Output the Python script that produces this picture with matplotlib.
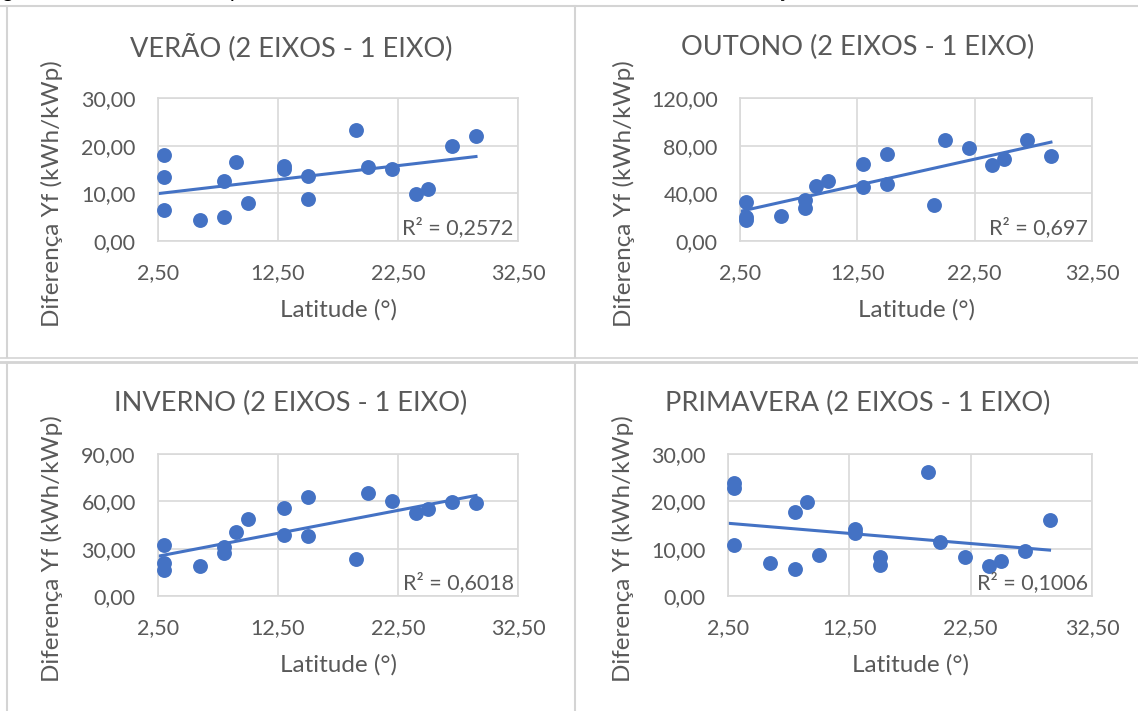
import numpy as np
import matplotlib.pyplot as plt
from matplotlib.lines import Line2D
from matplotlib.ticker import FuncFormatter

plt.rcParams['font.family'] = ['Lato', 'DejaVu Sans']

W, H = 1138, 711

# latitude (abs, graus) das cidades
latitude = [3, 3, 3, 6, 8, 8, 9, 10, 13, 13, 15, 15, 19, 20, 22, 24, 25, 27, 29]

# diferença Yf (2 eixos - 1 eixo), kWh/kWp
verao = [18.0, 13.4, 6.6, 4.5, 12.6, 5.0, 16.6, 8.0, 15.7, 15.2,
         13.7, 8.8, 23.2, 15.5, 15.2, 9.8, 11.0, 19.9, 22.1]
outono = [32.5, 20.5, 18.0, 21.3, 34.0, 27.5, 46.5, 50.5, 64.8, 44.9,
          73.2, 47.7, 30.6, 85.0, 78.2, 63.5, 69.0, 85.0, 71.5]
inverno = [32.2, 20.8, 16.5, 19.1, 31.0, 27.0, 40.3, 48.7, 55.5, 38.8,
           62.5, 38.1, 23.7, 65.3, 60.0, 52.3, 55.0, 59.5, 58.7]
primavera = [23.9, 22.8, 10.7, 6.9, 17.8, 5.7, 19.8, 8.6, 14.1, 13.4,
             8.3, 6.6, 26.3, 11.4, 8.2, 6.4, 7.3, 9.6, 16.1]

titulos = ['VERÃO (2 EIXOS - 1 EIXO)', 'OUTONO (2 EIXOS - 1 EIXO)',
           'INVERNO (2 EIXOS - 1 EIXO)', 'PRIMAVERA (2 EIXOS - 1 EIXO)']
r2_labels = ['R² = 0,2572', 'R² = 0,697', 'R² = 0,6018', 'R² = 0,1006']
y_max = [30, 120, 90, 30]
y_step = [10, 40, 30, 10]
x_ticks = [2.5, 12.5, 22.5, 32.5]

series = [verao, outono, inverno, primavera]

# plot areas in pixels: left, top, right, bottom
areas = [(158, 98, 518, 241), (740, 98, 1092, 241),
         (158, 454, 518, 596), (728, 454, 1092, 596)]
title_pos = [(291, 47), (858, 47), (291, 403), (858, 403)]
ylab_pos = [(52, 194), (624, 194), (52, 549), (623, 549)]

blue = '#4472C4'
gray_txt = '#595959'
grid_c = '#d9d9d9'


def fx(x):
    return x / W


def fy(y):
    return 1 - y / H


fmt = FuncFormatter(lambda v, p: f'{v:.2f}'.replace('.', ','))

fig = plt.figure(figsize=(W / 100, H / 100), dpi=100)

for i in range(4):
    l, t, r, b = areas[i]
    ax = fig.add_axes([fx(l), fy(b), (r - l) / W, (b - t) / H])
    x = np.array(latitude, dtype=float)
    y = np.array(series[i], dtype=float)
    ax.scatter(x, y, s=115, color=blue, zorder=3, clip_on=False, linewidths=0)

    ax.set_xlim(2.5, 32.5)
    ax.set_ylim(0, y_max[i])

    # linha de tendencia linear
    a, c = np.polyfit(x, y, 1)
    xs = np.array([ax.get_xlim()[0], x.max()])
    ax.plot(xs, a * xs + c, color=blue, lw=2.2, zorder=2)

    ax.set_xticks(x_ticks)
    ax.set_yticks(np.arange(0, y_max[i] + 0.1, y_step[i]))
    ax.xaxis.set_major_formatter(fmt)
    ax.yaxis.set_major_formatter(fmt)
    ax.tick_params(length=0, labelsize=15.5, colors=gray_txt)
    ax.tick_params(axis='x', pad=16)
    ax.tick_params(axis='y', pad=16)
    ax.grid(True, color=grid_c, lw=1.2)
    ax.set_axisbelow(True)
    for s in ax.spines.values():
        s.set_color(grid_c)
        s.set_linewidth(1.2)

    ax.text(0.988, 0.02, r2_labels[i], transform=ax.transAxes, ha='right',
            va='bottom', fontsize=15.5, color=gray_txt, zorder=4)

    fig.text(fx(title_pos[i][0]), fy(title_pos[i][1]), titulos[i],
             ha='center', va='center', fontsize=19.5, color=gray_txt)
    fig.text(fx((l + r) / 2), fy(b + 69), 'Latitude (°)', ha='center',
             va='center', fontsize=17.5, color=gray_txt)
    fig.text(fx(ylab_pos[i][0]), fy(ylab_pos[i][1]), 'Diferença Yf (kWh/kWp)',
             ha='center', va='center', rotation=90, fontsize=17.5, color=gray_txt)

# bordas da tabela
cell = '#d4d4d4'
fig.add_artist(Line2D([0, 1], [fy(6), fy(6)], color=cell, lw=1.5))
fig.add_artist(Line2D([0, 1], [fy(358), fy(358)], color=cell, lw=1.2))
fig.add_artist(Line2D([0, 1], [fy(362), fy(362)], color=cell, lw=2.0))
for xv in (7, 575):
    fig.add_artist(Line2D([fx(xv), fx(xv)], [fy(6), fy(357)], color=cell, lw=1.5))
    fig.add_artist(Line2D([fx(xv), fx(xv)], [fy(363), 0], color=cell, lw=1.5))

# legenda da figura (cortada no topo, como no original)
fig.text(fx(-14), fy(-3), 'Figura 22 - Incremento de produtividade entre os sistemas de 2 '
         'eixos e 1 eixo nas estações do ano com a latitude',
         ha='left', va='baseline', fontsize=15, color='black')

fig.savefig('out.png', dpi=100)
